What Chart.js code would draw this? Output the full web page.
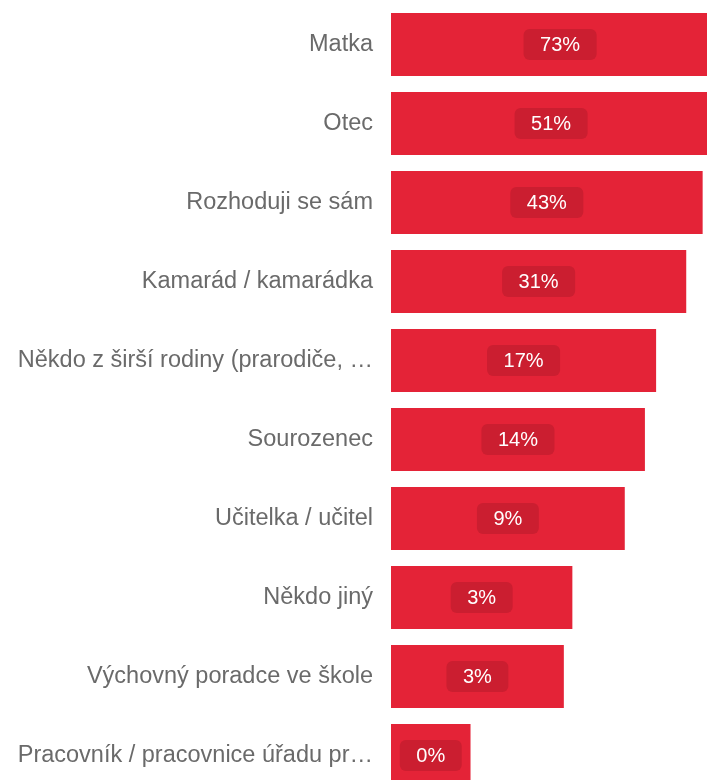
<!DOCTYPE html>
<html lang="cs">
<head>
<meta charset="UTF-8">
<title>Kdo ti radí</title>
<script src="https://cdn.jsdelivr.net/npm/chart.js"></script>
<style>
  html, body { margin: 0; padding: 0; background: #fff; overflow: hidden; }
  .wrap { position: relative; width: 707px; height: 800px; }
</style>
</head>
<body>
<div class="wrap"><canvas id="chart"></canvas></div>
<script>
// kategorie (popisky jsou ve zdroji zkrácené)
const categories = [
  "Matka",
  "Otec",
  "Rozhoduji se sám",
  "Kamarád / kamarádka",
  "Někdo z širší rodiny (prarodiče, …",
  "Sourozenec",
  "Učitelka / učitel",
  "Někdo jiný",
  "Výchovný poradce ve škole",
  "Pracovník / pracovnice úřadu pr…"
];
// podíly v % (odhad z délky sloupců, osa je logaritmická)
const values = [73, 51, 43, 31, 17, 13.6, 9.1, 3.2, 2.7, 0.42];
// rozsah osy x
const axisMin = 0.086;
const axisMax = 46.9;

const barRed = '#e42337';
const boxRed = '#cb1e30';

// štítky s hodnotou uprostřed sloupce
const valueLabels = {
  id: 'valueLabels',
  afterDatasetsDraw(chart) {
    const ctx = chart.ctx;
    const meta = chart.getDatasetMeta(0);
    ctx.save();
    ctx.font = '20px "Liberation Sans", Arial, sans-serif';
    ctx.textAlign = 'center';
    ctx.textBaseline = 'middle';
    meta.data.forEach((bar, i) => {
      const text = Math.round(values[i]) + '%';
      const cx = (bar.x + bar.base) / 2;
      const cy = bar.y;
      const w = ctx.measureText(text).width + 33;
      const h = 31;
      ctx.fillStyle = boxRed;
      ctx.beginPath();
      ctx.roundRect(cx - w / 2, cy - h / 2, w, h, 6);
      ctx.fill();
      ctx.fillStyle = '#ffffff';
      ctx.fillText(text, cx, cy + 1);
    });
    ctx.restore();
  }
};

new Chart(document.getElementById('chart'), {
  type: 'bar',
  data: {
    labels: categories,
    datasets: [{
      data: values,
      backgroundColor: barRed,
      borderWidth: 0,
      barPercentage: 0.797,
      categoryPercentage: 1
    }]
  },
  options: {
    indexAxis: 'y',
    responsive: true,
    maintainAspectRatio: false,
    animation: false,
    layout: { padding: { top: 5, bottom: 5, left: 0, right: 0 } },
    plugins: { legend: { display: false }, tooltip: { enabled: false } },
    scales: {
      x: {
        type: 'logarithmic',
        min: axisMin,
        max: axisMax,
        display: false
      },
      y: {
        grid: { display: false, drawTicks: false },
        border: { display: false },
        ticks: {
          color: '#6a6a6a',
          padding: 18,
          font: { family: '"Liberation Sans", Arial, sans-serif', size: 23.5 }
        },
        afterFit(scale) {
          scale.width = 391;
          scale.paddingTop = 0;
          scale.paddingBottom = 0;
        }
      }
    }
  },
  plugins: [valueLabels]
});
</script>
</body>
</html>
